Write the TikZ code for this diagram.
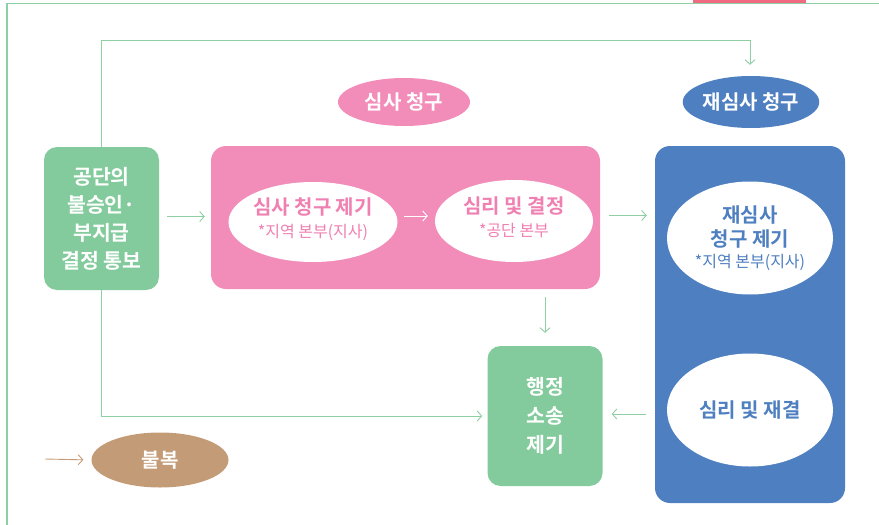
\documentclass[tikz,border=0pt]{standalone}
\usepackage{fontspec}
\setmainfont{Noto Sans CJK KR}[BoldFont={Noto Sans CJK KR Bold}]
\usetikzlibrary{shapes.geometric,arrows.meta}
\definecolor{gbox}{HTML}{83CB9C}
\definecolor{gline}{HTML}{8ED0A4}
\definecolor{pbox}{HTML}{F28DBA}
\definecolor{ptext}{HTML}{F080B2}
\definecolor{bbox}{HTML}{4E7FC0}
\definecolor{brn}{HTML}{C49B77}
\definecolor{pbar}{HTML}{F06B82}
\newcommand{\subtxt}[1]{{\mdseries\fontsize{16}{18}\selectfont #1}}
\tikzset{
  rbox/.style={rectangle, rounded corners=13pt, draw=none, text=white, font=\bfseries\fontsize{20.5}{28}\selectfont, align=center, inner sep=0pt},
  oval/.style={ellipse, draw=none, inner sep=0pt, align=center},
  arr/.style={draw=gline, line width=0.9pt, -{Straight Barb[length=4.5pt,width=10pt]}},
  warr/.style={draw=white, line width=0.9pt, -{Straight Barb[length=4.5pt,width=10pt]}},
  barr/.style={draw=brn, line width=0.9pt, -{Straight Barb[length=4.5pt,width=10pt]}},
  big/.style={font=\bfseries\fontsize{20}{24}\selectfont}
}
\begin{document}
\begin{tikzpicture}[x=1pt,y=-1pt]
\useasboundingbox (0,0) rectangle (879,525);
% frame
\fill[pbar] (693,0) rectangle (806,3.2);
\draw[gline, line width=1.2pt] (7,525) -- (7,3.6) -- (879,3.6);

% main boxes
\node[rbox, fill=gbox, minimum width=115pt, minimum height=143pt] (g1) at (101.5,218.5) {공단의\\불승인·\\부지급\\결정 통보};
\node[rbox, fill=pbox, minimum width=389pt, minimum height=143pt, rounded corners=15pt] (pink) at (405.5,217.5) {};
\node[rbox, fill=bbox, minimum width=190pt, minimum height=357pt, rounded corners=15pt] (blue) at (750,324.5) {};
\node[rbox, fill=gbox, minimum width=115pt, minimum height=140pt, font=\bfseries\fontsize{20.5}{29}\selectfont] (adm) at (545,416) {행정\\소송\\제기};

% ellipses inside pink
\node[oval, fill=white, minimum width=159pt, minimum height=80pt, text=ptext, big, text depth=8pt] (e1) at (313,222) {심사 청구 제기\\[-1pt]\subtxt{*지역 본부(지사)}};
\node[oval, fill=white, minimum width=158pt, minimum height=82pt, text=ptext, big, text depth=8pt] (e2) at (514,221) {심리 및 결정\\[-1pt]\subtxt{*공단 본부}};

% ellipses inside blue
\node[oval, fill=white, minimum width=166pt, minimum height=113pt, text=bbox, big] (e3) at (750,238) {재심사\\청구 제기\\[-3pt]\subtxt{*지역 본부(지사)}};
\node[oval, fill=white, minimum width=166pt, minimum height=113pt, text=bbox, big] (e4) at (750,410) {심리 및 재결};

% header ovals
\node[oval, fill=pbox, minimum width=132pt, minimum height=48pt, text=white, big] (hs) at (404,102) {심사 청구};
\node[oval, fill=bbox, minimum width=136pt, minimum height=52pt, text=white, big] (rj) at (751,102) {재심사 청구};

% 불복
\node[oval, fill=brn, minimum width=137pt, minimum height=55pt, text=white, big] (bb) at (160,460) {불복};
\coordinate (bstart) at (45,459);
\draw[barr, shorten >=8pt] (bstart) -- (bb.west);

% connectors
\draw[arr, shorten <=8pt, shorten >=6pt] ([yshift=2pt]g1.east) -- ([yshift=2pt]g1.east -| pink.west);
\draw[warr, shorten <=6pt, shorten >=7pt] ([yshift=6pt]e1.east) -- ([yshift=6pt]e1.east -| e2.west);
\draw[arr, shorten <=9pt, shorten >=8pt] ([yshift=2pt]pink.east) -- ([yshift=2pt]pink.east -| blue.west);
\coordinate (top) at (750,40);
\draw[arr] (g1.north) |- (top) -- ([yshift=11pt]rj.north -| top);
\draw[arr, shorten <=8pt, shorten >=13pt] (pink.south -| adm.north) -- (adm.north);
\draw[arr, shorten >=5pt] (g1.south) |- (adm.west);
\draw[arr, shorten <=9pt, shorten >=9pt] ([yshift=2pt]blue.west |- adm.east) -- ([yshift=2pt]adm.east);
\end{tikzpicture}
\end{document}
